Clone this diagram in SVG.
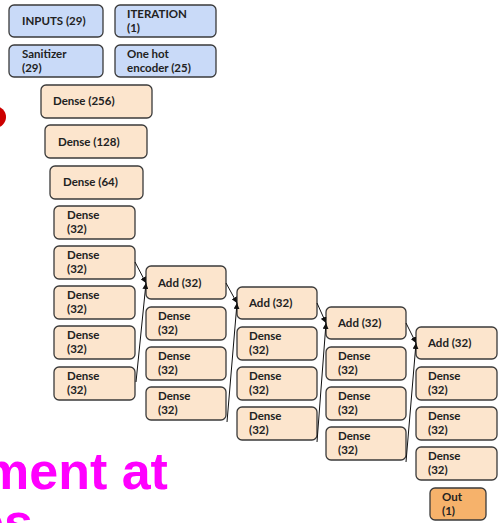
<svg xmlns="http://www.w3.org/2000/svg" width="500" height="523" viewBox="0 0 500 523">
  <defs>
    <style>
      .box rect { stroke: #3a3a3a; stroke-width: 1.3; }
      .in rect { fill: #c9daf8; }
      .layer rect { fill: #fce5cd; }
      .out rect { fill: #f6b26b; }
      text.lbl { font-family: Lato, "Open Sans", "Liberation Sans", sans-serif; font-weight: 700; font-size: 11.5px; fill: #222; }
      .conn line { stroke: #111; stroke-width: 1; fill: none; marker-end: url(#arrow); }
      .headline { font-family: "Liberation Sans", Arial, sans-serif; font-weight: 700; font-size: 52px; fill: #ff00ff; }
    </style>
    <marker id="arrow" viewBox="0 0 10 10" refX="10" refY="5" markerWidth="6" markerHeight="6" markerUnits="userSpaceOnUse" orient="auto">
      <path d="M0,0 L10,5 L0,10 z" fill="#111"/>
    </marker>
  </defs>

  <rect width="500" height="523" fill="#ffffff"/>

  <!-- partial red dot at the left edge -->
  <circle cx="-5" cy="117" r="11" fill="#cc0000"/>

  <!-- magenta heading, partly outside the page -->
  <text class="headline" x="-17" y="489">ment at</text>
  <text class="headline" x="-25" y="540">es</text>

  <!-- inputs -->
  <g id="inputs" class="box in"><rect x="9" y="5" width="94" height="32" rx="5"/><text class="lbl" x="22" y="25">INPUTS (29)</text></g>
  <g id="iteration" class="box in"><rect x="115" y="5" width="101" height="32" rx="5"/><text class="lbl" x="127" y="18">ITERATION</text><text class="lbl" x="127" y="32">(1)</text></g>
  <g id="sanitizer" class="box in"><rect x="9" y="45" width="94" height="32" rx="5"/><text class="lbl" x="22" y="58">Sanitizer</text><text class="lbl" x="22" y="72">(29)</text></g>
  <g id="onehot" class="box in"><rect x="115" y="45" width="101" height="32" rx="5"/><text class="lbl" x="127" y="58">One hot</text><text class="lbl" x="127" y="72">encoder (25)</text></g>

  <!-- dense stack -->
  <g id="dense256" class="box layer"><rect x="41" y="85" width="111" height="33" rx="5"/><text class="lbl" x="53" y="105">Dense (256)</text></g>
  <g id="dense128" class="box layer"><rect x="45" y="125" width="102" height="33" rx="5"/><text class="lbl" x="58" y="146">Dense (128)</text></g>
  <g id="dense64" class="box layer"><rect x="50" y="166" width="93" height="33" rx="5"/><text class="lbl" x="63" y="186">Dense (64)</text></g>

  <!-- column 1 -->
  <g id="c1d1" class="box layer"><rect x="54" y="206" width="81" height="33" rx="5"/><text class="lbl" x="67" y="219">Dense</text><text class="lbl" x="67" y="233">(32)</text></g>
  <g id="c1d2" class="box layer"><rect x="54" y="246" width="81" height="33" rx="5"/><text class="lbl" x="67" y="259">Dense</text><text class="lbl" x="67" y="273">(32)</text></g>
  <g id="c1d3" class="box layer"><rect x="54" y="286" width="81" height="33" rx="5"/><text class="lbl" x="67" y="299">Dense</text><text class="lbl" x="67" y="313">(32)</text></g>
  <g id="c1d4" class="box layer"><rect x="54" y="326" width="81" height="33" rx="5"/><text class="lbl" x="67" y="339">Dense</text><text class="lbl" x="67" y="353">(32)</text></g>
  <g id="c1d5" class="box layer"><rect x="54" y="367" width="81" height="33" rx="5"/><text class="lbl" x="67" y="380">Dense</text><text class="lbl" x="67" y="394">(32)</text></g>

  <!-- column 2 -->
  <g id="c2add" class="box layer"><rect x="146" y="266" width="80" height="33" rx="5"/><text class="lbl" x="158" y="287">Add (32)</text></g>
  <g id="c2d1" class="box layer"><rect x="146" y="307" width="80" height="33" rx="5"/><text class="lbl" x="158" y="320">Dense</text><text class="lbl" x="158" y="334">(32)</text></g>
  <g id="c2d2" class="box layer"><rect x="146" y="347" width="80" height="33" rx="5"/><text class="lbl" x="158" y="360">Dense</text><text class="lbl" x="158" y="374">(32)</text></g>
  <g id="c2d3" class="box layer"><rect x="146" y="387" width="80" height="33" rx="5"/><text class="lbl" x="158" y="400">Dense</text><text class="lbl" x="158" y="414">(32)</text></g>

  <!-- column 3 -->
  <g id="c3add" class="box layer"><rect x="237" y="287" width="80" height="32" rx="5"/><text class="lbl" x="249" y="307">Add (32)</text></g>
  <g id="c3d1" class="box layer"><rect x="237" y="327" width="80" height="33" rx="5"/><text class="lbl" x="249" y="340">Dense</text><text class="lbl" x="249" y="354">(32)</text></g>
  <g id="c3d2" class="box layer"><rect x="237" y="367" width="80" height="33" rx="5"/><text class="lbl" x="249" y="380">Dense</text><text class="lbl" x="249" y="394">(32)</text></g>
  <g id="c3d3" class="box layer"><rect x="237" y="407" width="80" height="33" rx="5"/><text class="lbl" x="249" y="420">Dense</text><text class="lbl" x="249" y="434">(32)</text></g>

  <!-- column 4 -->
  <g id="c4add" class="box layer"><rect x="326" y="307" width="80" height="32" rx="5"/><text class="lbl" x="338" y="327">Add (32)</text></g>
  <g id="c4d1" class="box layer"><rect x="326" y="347" width="80" height="33" rx="5"/><text class="lbl" x="338" y="360">Dense</text><text class="lbl" x="338" y="374">(32)</text></g>
  <g id="c4d2" class="box layer"><rect x="326" y="387" width="80" height="33" rx="5"/><text class="lbl" x="338" y="400">Dense</text><text class="lbl" x="338" y="414">(32)</text></g>
  <g id="c4d3" class="box layer"><rect x="326" y="427" width="80" height="33" rx="5"/><text class="lbl" x="338" y="440">Dense</text><text class="lbl" x="338" y="454">(32)</text></g>

  <!-- column 5 -->
  <g id="c5add" class="box layer"><rect x="416" y="327" width="81" height="32" rx="5"/><text class="lbl" x="428" y="347">Add (32)</text></g>
  <g id="c5d1" class="box layer"><rect x="416" y="367" width="81" height="33" rx="5"/><text class="lbl" x="428" y="380">Dense</text><text class="lbl" x="428" y="394">(32)</text></g>
  <g id="c5d2" class="box layer"><rect x="416" y="407" width="81" height="33" rx="5"/><text class="lbl" x="428" y="420">Dense</text><text class="lbl" x="428" y="434">(32)</text></g>
  <g id="c5d3" class="box layer"><rect x="416" y="447" width="81" height="33" rx="5"/><text class="lbl" x="428" y="460">Dense</text><text class="lbl" x="428" y="474">(32)</text></g>

  <g id="out" class="box out"><rect x="430" y="488" width="56" height="32" rx="5"/><text class="lbl" x="442" y="501">Out</text><text class="lbl" x="442" y="515">(1)</text></g>

  <!-- residual connectors -->
  <g id="connectors" class="conn">
    <line x1="135" y1="262" x2="146" y2="283"/>
    <line x1="136" y1="382" x2="146" y2="283"/>
    <line x1="226" y1="283" x2="237" y2="303"/>
    <line x1="227" y1="422" x2="237" y2="303"/>
    <line x1="317" y1="303" x2="326" y2="323"/>
    <line x1="317" y1="442" x2="326" y2="323"/>
    <line x1="406" y1="323" x2="416" y2="343"/>
    <line x1="406" y1="462" x2="416" y2="343"/>
  </g>
</svg>
